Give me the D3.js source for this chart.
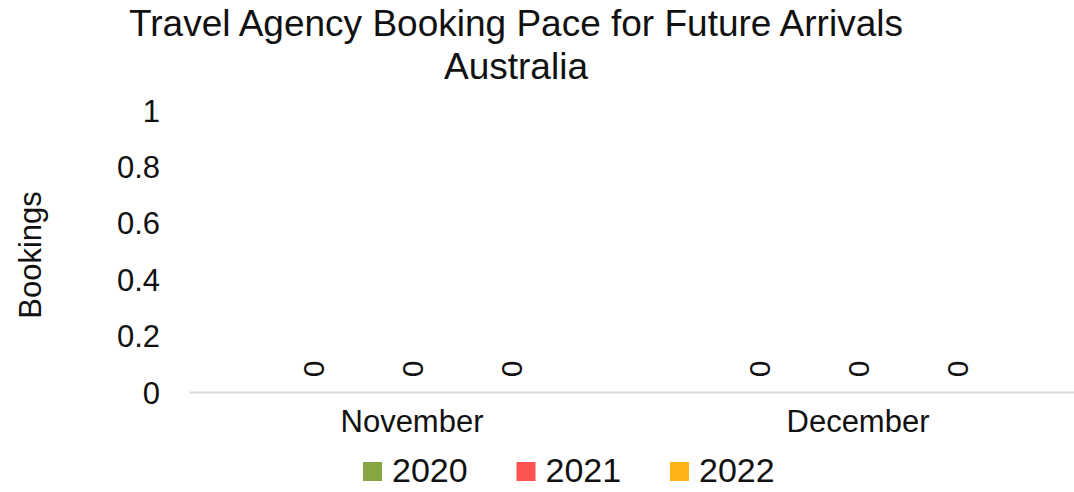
<!DOCTYPE html>
<html>
<head>
<meta charset="utf-8">
<script src="https://cdn.jsdelivr.net/npm/d3@7"></script>
<style>
  html, body { margin: 0; padding: 0; background: #fff; }
  svg { display: block; font-family: "Liberation Sans", Arial, sans-serif; }
</style>
</head>
<body>
<svg id="chart" width="1074" height="492"></svg>
<script>
// Booking counts per arrival month, one array per year
const months = ["November", "December"];
const seriesNames = ["2020", "2021", "2022"];
const values2020 = [0, 0];
const values2021 = [0, 0];
const values2022 = [0, 0];
const seriesColors = ["#86A543", "#FF5353", "#FFB115"];
const yTicks = [0, 0.2, 0.4, 0.6, 0.8, 1];
const titleLines = ["Travel Agency Booking Pace for Future Arrivals", "Australia"];
const yLabel = "Bookings";

const seriesValues = [values2020, values2021, values2022];
const rows = months.map((m, i) => ({
  month: m,
  items: seriesNames.map((s, j) => ({ series: s, value: seriesValues[j][i], color: seriesColors[j] }))
}));

const svg = d3.select("#chart");
const plot = { left: 189, right: 1081, top: 110, bottom: 392 };

const x0 = d3.scaleBand()
  .domain(months)
  .range([plot.left, plot.right])
  .paddingInner(0.333)
  .paddingOuter(0.1665);
const x1 = d3.scaleBand()
  .domain(seriesNames)
  .range([0, x0.bandwidth()])
  .paddingInner(0.2)
  .paddingOuter(0.1);
const y = d3.scaleLinear().domain([0, 1]).range([plot.bottom, plot.top]);

// Title
svg.append("g").selectAll("text")
  .data(titleLines)
  .join("text")
  .attr("x", 516)
  .attr("y", (d, i) => 36 + i * 43)
  .attr("text-anchor", "middle")
  .attr("font-size", 37)
  .attr("fill", "#111")
  .text(d => d);

// Y axis: labels only, no line or ticks
const yAxis = svg.append("g")
  .attr("transform", `translate(160,0)`)
  .call(d3.axisLeft(y).tickValues(yTicks).tickFormat(d => String(+d.toFixed(1))).tickSize(0).tickPadding(0));
yAxis.select(".domain").remove();
yAxis.selectAll("text")
  .attr("font-size", 31)
  .attr("font-family", "Liberation Sans, Arial, sans-serif")
  .attr("fill", "#111")
  .attr("dy", "0.36em");

// Y axis title
svg.append("text")
  .attr("transform", "translate(41,255) rotate(-90)")
  .attr("text-anchor", "middle")
  .attr("font-size", 31)
  .attr("fill", "#111")
  .text(yLabel);

// X axis: light baseline plus month labels
const xAxis = svg.append("g")
  .attr("transform", `translate(0,${plot.bottom})`)
  .call(d3.axisBottom(x0).tickSize(0).tickPadding(0));
xAxis.select(".domain")
  .attr("stroke", "#d9d9d9")
  .attr("stroke-width", 2);
xAxis.selectAll("text")
  .attr("font-size", 31)
  .attr("font-family", "Liberation Sans, Arial, sans-serif")
  .attr("fill", "#111")
  .attr("dy", 0)
  .attr("y", 40);

// Bars and value labels
const groups = svg.append("g").selectAll("g")
  .data(rows)
  .join("g")
  .attr("transform", d => `translate(${x0(d.month)},0)`);

groups.selectAll("rect")
  .data(d => d.items)
  .join("rect")
  .attr("x", d => x1(d.series))
  .attr("width", x1.bandwidth())
  .attr("y", d => y(d.value))
  .attr("height", d => y(0) - y(d.value))
  .attr("fill", d => d.color);

groups.selectAll("text.value")
  .data(d => d.items)
  .join("text")
  .attr("class", "value")
  .attr("transform", d => `translate(${x1(d.series) + x1.bandwidth() / 2},${y(d.value) - 23}) rotate(-90)`)
  .attr("text-anchor", "middle")
  .attr("dy", "0.36em")
  .attr("font-size", 30)
  .attr("fill", "#111")
  .text(d => d.value);

// Legend
const legend = svg.append("g").selectAll("g")
  .data(seriesNames)
  .join("g")
  .attr("transform", (d, i) => `translate(${363 + i * 153.5},462)`);
legend.append("rect")
  .attr("width", 19)
  .attr("height", 19)
  .attr("fill", (d, i) => seriesColors[i]);
legend.append("text")
  .attr("x", 29)
  .attr("y", 20)
  .attr("font-size", 34)
  .attr("fill", "#111")
  .text(d => d);
</script>
</body>
</html>
